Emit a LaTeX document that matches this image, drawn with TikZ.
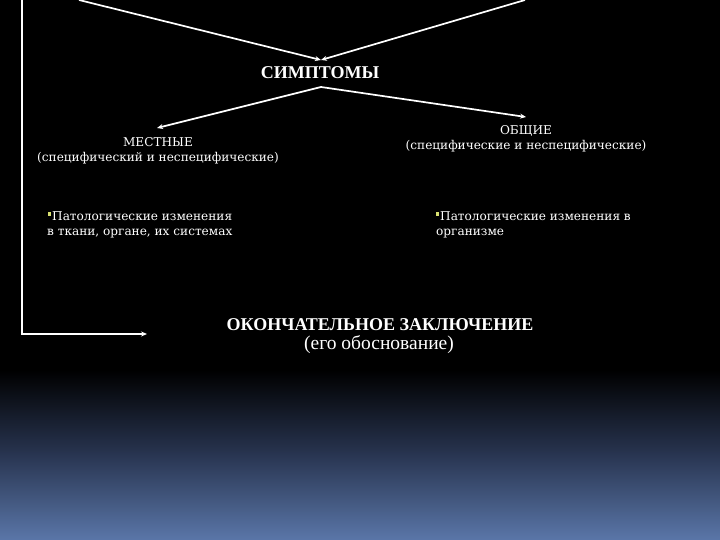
\documentclass[tikz,border=0pt]{standalone}
\usepackage{fontspec}
\setmainfont{Liberation Serif}
\newfontfamily\smallserif{DejaVu Serif}
\usetikzlibrary{arrows.meta}
\definecolor{bgblue}{HTML}{5A76A8}
\definecolor{bgmid}{HTML}{27334E}
\definecolor{bulletcol}{HTML}{D8E070}
\tikzset{
  conn/.style={draw=white, line width=1.7pt, -{Stealth[length=6pt,width=5pt]}},
  bigbold/.style={text=white, inner sep=0pt, anchor=base, font=\fontsize{18}{22}\selectfont\bfseries},
  bigreg/.style={text=white, inner sep=0pt, anchor=base, font=\fontsize{19.5}{22}\selectfont},
  smalltxt/.style={text=white, inner sep=0pt, anchor=base, font=\smallserif\fontsize{12.1}{14}\selectfont},
  smallleft/.style={smalltxt, anchor=base west},
}
\begin{document}
\begin{tikzpicture}[x=1pt,y=-1pt]
\useasboundingbox (0,0) rectangle (720,540);
\fill[black] (0,0) rectangle (720,540);
\shade[top color=black, bottom color=bgmid] (0,370) rectangle (720,452);
\shade[top color=bgmid, bottom color=bgblue] (0,451.5) rectangle (720,540);

% texts
\node[bigbold] (symp) at (320,79) {СИМПТОМЫ};
\node[smalltxt] (mest) at (158,147) {МЕСТНЫЕ};
\node[smalltxt] (mestsub) at (158,162) {(специфический и неспецифические)};
\node[smalltxt] (obsh) at (526,135) {ОБЩИЕ};
\node[smalltxt] (obshsub) at (526,150) {(специфические и неспецифические)};
\node[smallleft] (lb1) at (52,221) {Патологические изменения};
\node[smallleft] (lb2) at (47,236) {в ткани, органе, их системах};
\node[smallleft] (rb1) at (440,221) {Патологические изменения в};
\node[smallleft] (rb2) at (436,236) {организме};
\fill[bulletcol] (47.5,212) rectangle (51,216);
\fill[bulletcol] (435.5,212) rectangle (439,216);
\node[bigbold] (final) at (380,330) {ОКОНЧАТЕЛЬНОЕ ЗАКЛЮЧЕНИЕ};
\node[bigreg] (finalsub) at (379,349) {(его обоснование)};

% connector endpoints
\coordinate (tl) at (79,0);
\coordinate (tr) at (525,0);
\coordinate (sympin) at (321,60);
\coordinate (sympout) at (321,87);
\coordinate (mestin) at (157,128);
\coordinate (obshin) at (526,117);
\coordinate (ltop) at (22,-2);
\coordinate (lcorner) at (22,334);
\coordinate (finalin) at (147,334);

\draw[conn] (tl) -- (sympin);
\draw[conn] (tr) -- (sympin);
\draw[conn] (sympout) -- (mestin);
\draw[conn] (sympout) -- (obshin);
\draw[conn, line width=1.9pt] (ltop) -- (lcorner) -- (finalin);
\end{tikzpicture}
\end{document}
